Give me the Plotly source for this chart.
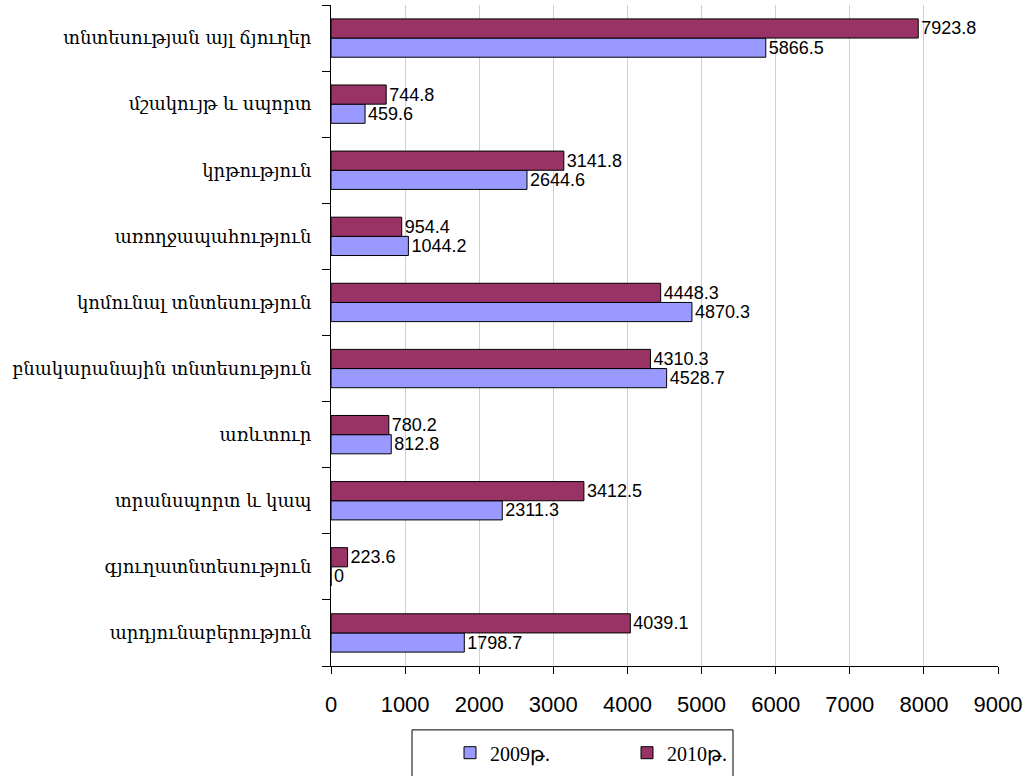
import plotly.graph_objects as go

categories = [
    "արդյունաբերություն",
    "գյուղատնտեսություն",
    "տրանսպորտ և կապ",
    "առևտուր",
    "բնակարանային տնտեսություն",
    "կոմունալ տնտեսություն",
    "առողջապահություն",
    "կրթություն",
    "մշակույթ և սպորտ",
    "տնտեսության այլ ճյուղեր",
]
values_2009 = [1798.7, 0, 2311.3, 812.8, 4528.7, 4870.3, 1044.2, 2644.6, 459.6, 5866.5]
values_2010 = [4039.1, 223.6, 3412.5, 780.2, 4310.3, 4448.3, 954.4, 3141.8, 744.8, 7923.8]
series_names = ["2009թ.", "2010թ."]
x_ticks = [0, 1000, 2000, 3000, 4000, 5000, 6000, 7000, 8000, 9000]

def fmt(v):
    return "0" if v == 0 else f"{v:.1f}"

fig = go.Figure()
fig.add_trace(go.Bar(
    y=categories, x=values_2009, orientation="h", name=series_names[0],
    marker=dict(color="#9999FF", line=dict(color="#000000", width=1)),
    text=[fmt(v) for v in values_2009], textposition="outside",
    constraintext="none",
    textfont=dict(family="Liberation Sans, Arial", size=18, color="#000000"),
    cliponaxis=False,
))
fig.add_trace(go.Bar(
    y=categories, x=values_2010, orientation="h", name=series_names[1],
    marker=dict(color="#993366", line=dict(color="#000000", width=1)),
    text=[fmt(v) for v in values_2010], textposition="outside",
    constraintext="none",
    textfont=dict(family="Liberation Sans, Arial", size=18, color="#000000"),
    cliponaxis=False,
))

# legend frame
fig.add_shape(type="rect", xref="paper", yref="paper",
              x0=(412 - 331) / 667, x1=(733 - 331) / 667,
              y0=(667 - 790) / 662, y1=(667 - 731) / 662,
              line=dict(color="#000000", width=1), fillcolor="rgba(0,0,0,0)")

fig.update_layout(
    width=1028, height=776,
    margin=dict(l=331, r=30, t=5, b=109),
    paper_bgcolor="white", plot_bgcolor="white",
    barmode="group", bargap=0.42, bargroupgap=0,
    showlegend=True,
    legend=dict(
        orientation="h", x=(450 - 331) / 667, y=-0.1, xanchor="left", yanchor="top",
        borderwidth=0, bgcolor="rgba(0,0,0,0)",
        font=dict(family="Liberation Serif, Times New Roman, serif", size=20, color="#000000"),
        entrywidth=132, entrywidthmode="pixels",
        traceorder="normal",
    ),
    xaxis=dict(
        range=[0, 9000], tickvals=x_ticks, ticktext=[str(t) for t in x_ticks],
        showgrid=True, gridcolor="#d0d0d0", gridwidth=1,
        showline=True, linecolor="#000000", linewidth=1,
        ticks="outside", ticklen=7, tickcolor="#000000",
        tickfont=dict(family="Liberation Sans, Arial", size=22, color="#000000"),
        ticklabelstandoff=12,
        zeroline=False, fixedrange=True,
    ),
    yaxis=dict(
        type="category",
        showgrid=False, showline=True, linecolor="#000000", linewidth=1,
        ticks="outside", ticklen=8, tickcolor="#000000", tickson="boundaries",
        tickfont=dict(family="DejaVu Serif, serif", size=18, color="#000000"),
        ticklabelstandoff=15,
        fixedrange=True,
    ),
)

fig.write_html("out.html", config={"displayModeBar": False},
               post_script="document.body.style.margin='0px';")
